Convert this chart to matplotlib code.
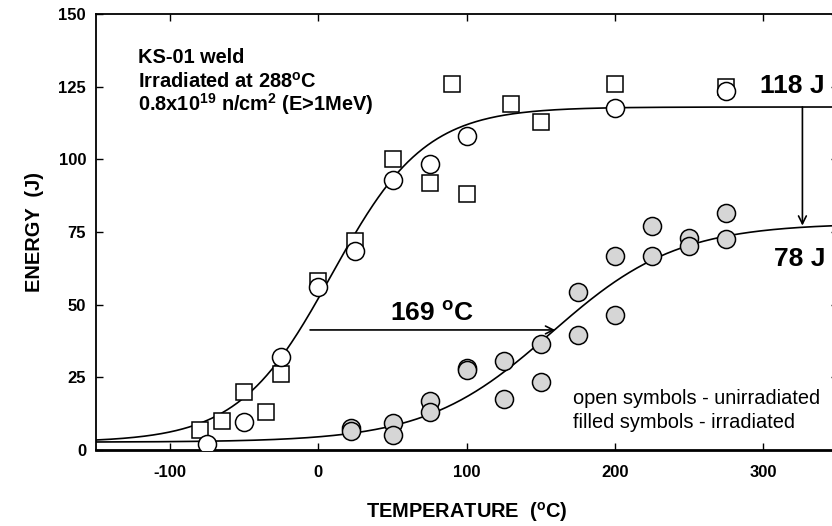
import numpy as np
import matplotlib
matplotlib.use("Agg")
import matplotlib.pyplot as plt

plt.rcParams['font.family'] = ['Liberation Sans', 'DejaVu Sans']
plt.rcParams['mathtext.fontset'] = 'custom'
plt.rcParams['mathtext.rm'] = 'Liberation Sans'
plt.rcParams['mathtext.bf'] = 'Liberation Sans:bold'
plt.rcParams['mathtext.it'] = 'Liberation Sans:italic'
plt.rcParams['axes.unicode_minus'] = False

# ---- data ----
unirr_sq_T = [-80, -65, -50, -35, -25, 0, 25, 50, 75, 90, 100, 130, 150, 200, 275]
unirr_sq_E = [7, 10, 20, 13, 26, 58, 72, 100, 92, 126, 88, 119, 113, 126, 125]
unirr_ci_T = [-75, -50, -25, 0, 25, 50, 75, 100, 200, 275]
unirr_ci_E = [2, 9.6, 32, 56.2, 68.6, 93, 98.5, 108, 117.5, 123.5]
irr_T = [22, 22, 50, 50, 75, 75, 100, 100, 125, 125, 150, 150, 175, 175,
         200, 200, 225, 225, 250, 250, 275, 275]
irr_E = [7.5, 6.6, 9.3, 5.3, 17, 13.2, 28.3, 27.6, 30.6, 17.4, 36.5, 23.5,
         54.5, 39.5, 66.7, 46.4, 77, 66.7, 73, 70.2, 81.6, 72.5]

# tanh fit parameters: lower shelf, upper shelf, T0, C
unirr_fit = (2.7, 118.0, 9.0, 63.0)
irr_fit = (2.7, 78.0, 157.0, 85.0)

x_ticks = [-100, 0, 100, 200, 300]
y_ticks = [0, 25, 50, 75, 100, 125, 150]


def tanh_curve(T, p):
    ls, us, t0, c = p
    return (us + ls) / 2 + (us - ls) / 2 * np.tanh((T - t0) / c)


fig = plt.figure(figsize=(8.32, 5.26), dpi=100)
ax = fig.add_axes([0.1152, 0.1445, 0.8915, 0.8289])
ax.set_xlim(-150, 350)
ax.set_ylim(0, 150)

Tc = np.linspace(-150, 350, 600)
ax.plot(Tc, tanh_curve(Tc, unirr_fit), color='black', lw=1.2, zorder=2)
ax.plot(Tc, tanh_curve(Tc, irr_fit), color='black', lw=1.2, zorder=2)

ax.plot(unirr_sq_T, unirr_sq_E, linestyle='none', marker='s', ms=11.5,
        mfc='white', mec='black', mew=1.1, zorder=3)
ax.plot(unirr_ci_T, unirr_ci_E, linestyle='none', marker='o', ms=13,
        mfc='white', mec='black', mew=1.1, zorder=4)
ax.plot(irr_T, irr_E, linestyle='none', marker='o', ms=13,
        mfc='#d6d6d6', mec='black', mew=1.1, zorder=4)

# arrows
ax.annotate('', xy=(159.6, 41.3), xytext=(-5.6, 41.3),
            arrowprops=dict(arrowstyle='->', color='black', lw=1.2,
                            shrinkA=0, shrinkB=0, mutation_scale=14), zorder=5)
ax.annotate('', xy=(326.3, 77.2), xytext=(326.3, 118),
            arrowprops=dict(arrowstyle='->', color='black', lw=1.2,
                            shrinkA=0, shrinkB=0, mutation_scale=14), zorder=5)

# texts
ax.text(-121.6, 133.2, 'KS-01 weld', fontsize=14.4, fontweight='bold', va='baseline')
ax.text(-121.6, 124.6, r'Irradiated at 288$^{\mathbf{o}}$C', fontsize=14.4,
        fontweight='bold', va='baseline')
ax.text(-121.6, 116.6, r'0.8x10$^{\mathbf{19}}$ n/cm$^{\mathbf{2}}$ (E>1MeV)',
        fontsize=14.4, fontweight='bold', va='baseline')
ax.text(341.6, 122.7, '118 J', fontsize=19, fontweight='bold', va='baseline', ha='right')
ax.text(341.6, 63.3, '78 J', fontsize=19, fontweight='bold', va='baseline', ha='right')
ax.text(76.7, 44.4, r'169 $^{\mathbf{o}}$C', fontsize=19, fontweight='bold',
        va='baseline', ha='center')
ax.text(171.5, 17.8, 'open symbols - unirradiated', fontsize=14.4, va='center')
ax.text(171.5, 9.4, 'filled symbols - irradiated', fontsize=14.4, va='center')

ax.set_xticks(x_ticks)
ax.set_yticks(y_ticks)
ax.tick_params(direction='in', top=True, right=True, length=5, width=1.0,
               labelsize=12)
ax.tick_params(axis='x', pad=11)
ax.tick_params(axis='y', pad=7)
for lab in ax.get_xticklabels() + ax.get_yticklabels():
    lab.set_fontweight('bold')

ax.spines['bottom'].set_linewidth(2.0)
ax.spines['left'].set_linewidth(1.3)
ax.spines['top'].set_linewidth(1.3)
ax.spines['right'].set_linewidth(1.3)

ax.set_xlabel(r'TEMPERATURE  ($^{\mathbf{o}}$C)', fontsize=14.4, fontweight='bold',
              labelpad=14)
ax.set_ylabel('ENERGY  (J)', fontsize=14.4, fontweight='bold', labelpad=10)

fig.savefig('out.png', dpi=100)
